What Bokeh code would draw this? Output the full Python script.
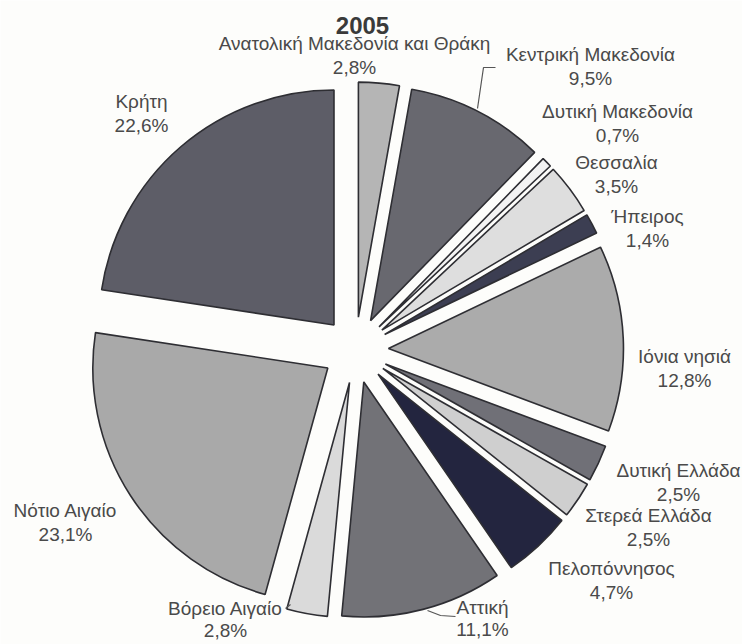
import math
from bokeh.plotting import figure
from bokeh.models import Range1d
from bokeh.core.properties import value
from bokeh.embed import file_html
from bokeh.resources import INLINE

# ---- data ----
regions = ["Ανατολική Μακεδονία και Θράκη", "Κεντρική Μακεδονία", "Δυτική Μακεδονία",
           "Θεσσαλία", "Ήπειρος", "Ιόνια νησιά", "Δυτική Ελλάδα", "Στερεά Ελλάδα",
           "Πελοπόννησος", "Αττική", "Βόρειο Αιγαίο", "Νότιο Αιγαίο", "Κρήτη"]
shares = [2.8, 9.5, 0.7, 3.5, 1.4, 12.8, 2.5, 2.5, 4.7, 11.1, 2.8, 23.1, 22.6]
year = "2005"

# ---- styles / layout ----
colors = ["#b5b5b5", "#68686f", "#f3f3f3", "#dedede", "#3c3e52", "#ababab", "#707077",
          "#cfcfcf", "#23253f", "#727277", "#dadada", "#a9a9a9", "#5d5d67"]
# label anchor (image px): centre x, centre y of first line, gap to second line
label_pos = [(354, 43, 24), (590, 54, 24), (617, 111, 24), (616, 162, 24), (647, 216, 24),
             (684, 356, 24), (678, 470, 24), (648, 515, 24), (611, 568, 24), (482, 607, 22),
             (225, 608, 22), (65, 510, 24), (141, 101, 24)]

W, H = 742, 644
def px(X):
    return X
def py(Y):
    return H - Y

CX, CY = px(355), py(349.5)
R = 235
D = 33

p = figure(width=W, height=H, output_backend="svg", toolbar_location=None,
           x_range=Range1d(0, W), y_range=Range1d(0, H), min_border=0)
p.axis.visible = False
p.grid.visible = False
p.outline_line_color = None
p.background_fill_color = "#fdfdfb"
p.border_fill_color = "#fdfdfb"

total = sum(shares)
xs, ys, starts, ends = [], [], [], []
cum = 0.0
for s in shares:
    c0 = cum / total
    cum += s
    c1 = cum / total
    a_start = math.pi / 2 - 2 * math.pi * c1
    a_end = math.pi / 2 - 2 * math.pi * c0
    mid = (a_start + a_end) / 2
    xs.append(CX + D * math.cos(mid))
    ys.append(CY + D * math.sin(mid))
    starts.append(a_start)
    ends.append(a_end)

p.wedge(x=xs, y=ys, radius=R, start_angle=starts, end_angle=ends,
        fill_color=colors, line_color="#2e2e33", line_width=1.6)

# leader lines (image px)
leaders = [
    [(495, 67), (483, 67), (477, 108)],
    [(285, 608), (290, 604)],
    [(427, 610), (440, 615), (455, 616)],
]
for pts in leaders:
    p.line([px(a) for a, b in pts], [py(b) for a, b in pts], line_color="#555555", line_width=1.2)

font = value("Liberation Sans")
lx = [px(a) for a, b, g in label_pos]
ly1 = [py(b) for a, b, g in label_pos]
ly2 = [py(b + g) for a, b, g in label_pos]
pct = [f"{v:.1f}".replace(".", ",") + "%" for v in shares]
p.text(x=lx, y=ly1, text=regions, text_font=font, text_font_size="19px",
       text_align="center", text_baseline="middle", text_color="#4a4a4a")
p.text(x=lx, y=ly2, text=pct, text_font=font, text_font_size="19px",
       text_align="center", text_baseline="middle", text_color="#4a4a4a")

p.text(x=[px(362)], y=[py(25)], text=[year], text_font=font, text_font_size="24px",
       text_font_style="bold", text_align="center", text_baseline="middle", text_color="#3a3a3a")

open("out.html", "w").write(file_html(p, INLINE))
